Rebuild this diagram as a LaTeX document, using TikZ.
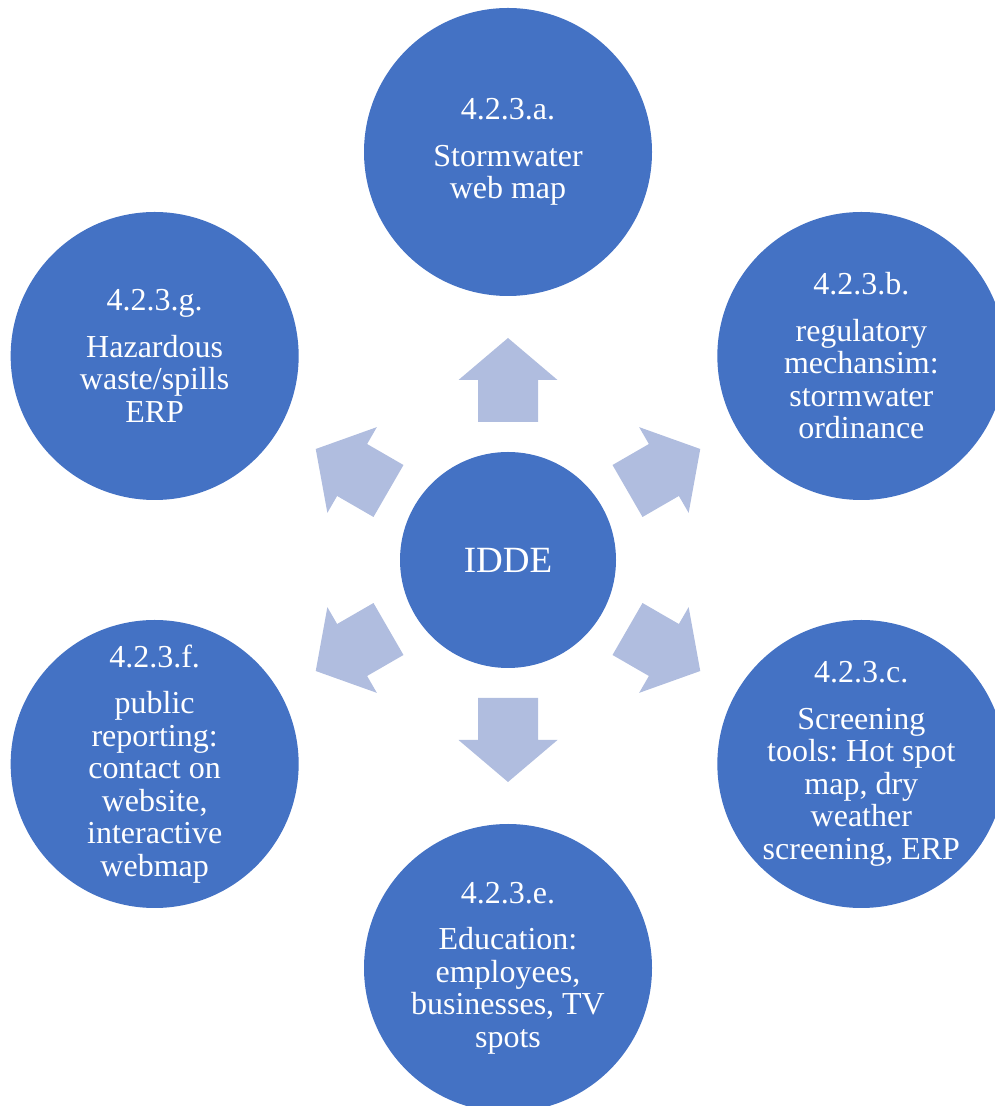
\documentclass[tikz,border=0pt]{standalone}
\usepackage{fontspec}
\setmainfont{Liberation Serif}
\frenchspacing
\definecolor{circblue}{RGB}{68,114,196}
\definecolor{arrowblue}{RGB}{176,189,223}
\tikzset{
	hub/.style={circle, fill=circblue, minimum size=216pt, inner sep=0pt, text=white, font=\fontsize{37}{40}\selectfont},
	spoke/.style={circle, fill=circblue, minimum size=288pt, inner sep=0pt},
	spoketext/.style={text=white, align=center, inner sep=0pt, font=\fontsize{32}{32.5}\selectfont},
	blockarrow/.style={fill=arrowblue}
}
\begin{document}
\begin{tikzpicture}[x=1pt, y=1pt]
	\useasboundingbox (0,0) rectangle (994,1106);
	\node[hub] (idde) at (508,546) {IDDE};
	\node[spoke] (sa) at ([shift={(90:408)}]idde.center) {};
	\node[spoke] (sb) at ([shift={(30:408)}]idde.center) {};
	\node[spoke] (sc) at ([shift={(-30:408)}]idde.center) {};
	\node[spoke] (se) at ([shift={(-90:408)}]idde.center) {};
	\node[spoke] (sf) at ([shift={(210:408)}]idde.center) {};
	\node[spoke] (sg) at ([shift={(150:408)}]idde.center) {};
	\node[spoketext] (sa-text) at (sa) {4.2.3.a.\\[14pt]Stormwater\\web map};
	\node[spoketext] (sb-text) at (sb) {4.2.3.b.\\[14pt]regulatory\\mechansim:\\stormwater\\ordinance};
	\node[spoketext] (sc-text) at (sc) {4.2.3.c.\\[14pt]Screening\\tools: Hot spot\\map, dry\\weather\\screening, ERP};
	\node[spoketext] (se-text) at (se) {4.2.3.e.\\[14pt]Education:\\employees,\\businesses, TV\\spots};
	\node[spoketext] (sf-text) at (sf) {4.2.3.f.\\[14pt]public\\reporting:\\contact on\\website,\\interactive\\webmap};
	\node[spoketext] (sg-text) at (sg) {4.2.3.g.\\[14pt]Hazardous\\waste/spills\\ERP};
	% block arrows out of the hub
	\foreach \a in {90,30,-30,-90,210,150}
	{
	\begin{scope}[shift={(idde.center)}, rotate=\a]
	\fill[blockarrow] (138,-30) -- (180,-30) -- (180,-49.5) -- (222,0) -- (180,49.5) -- (180,30) -- (138,30) -- cycle;
	\end{scope}
	}
\end{tikzpicture}
\end{document}
